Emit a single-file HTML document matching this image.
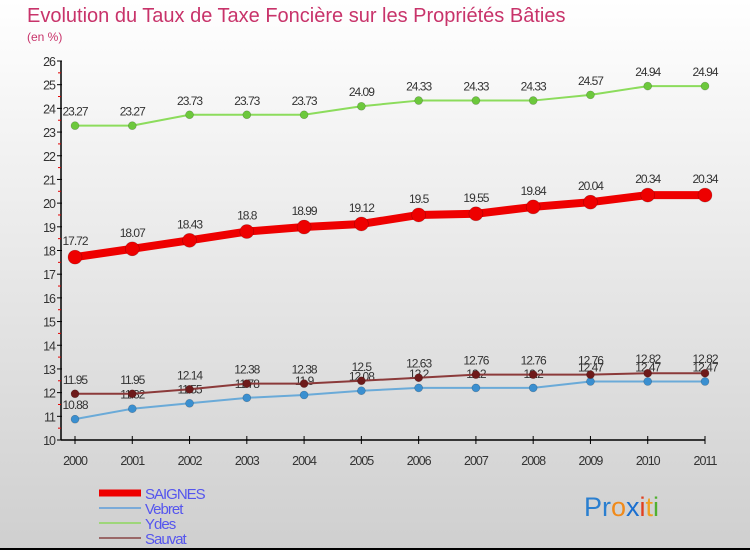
<!DOCTYPE html>
<html><head><meta charset="utf-8"><style>
body{margin:0;}
#wrap{width:750px;height:550px;position:relative;overflow:hidden;background:linear-gradient(#ffffff,#cfcfcf);font-family:"Liberation Sans",sans-serif;}
svg{position:absolute;left:0;top:0;}
</style></head><body>
<div id="wrap">
<svg id="c" width="750" height="550"></svg>
</div>
<script>
const years=["2000","2001","2002","2003","2004","2005","2006","2007","2008","2009","2010","2011"];
const saignes=[17.72,18.07,18.43,18.8,18.99,19.12,19.5,19.55,19.84,20.04,20.34,20.34];
const vebret=[10.88,11.32,11.55,11.78,11.9,12.08,12.2,12.2,12.2,12.47,12.47,12.47];
const ydes=[23.27,23.27,23.73,23.73,23.73,24.09,24.33,24.33,24.33,24.57,24.94,24.94];
const sauvat=[11.95,11.95,12.14,12.38,12.38,12.5,12.63,12.76,12.76,12.76,12.82,12.82];
const yTicks=[10,11,12,13,14,15,16,17,18,19,20,21,22,23,24,25,26];
const seriesNames=["SAIGNES","Vebret","Ydes","Sauvat"];

const svg=document.getElementById('c');
const NS="http://www.w3.org/2000/svg";
function X(i){return 75+i*(630/11);}
function Y(v){return 440-(v-10)*(379/16);}
function mk(t,a,p){const e=document.createElementNS(NS,t);for(const k in a)e.setAttribute(k,a[k]);(p||svg).appendChild(e);return e;}
function fmt(v){return String(v);}

let t=mk('text',{x:27,y:22,'font-size':20,fill:'#c8336a'});t.textContent="Evolution du Taux de Taxe Foncière sur les Propriétés Bâties";


t=mk('text',{x:27,y:41,'font-size':12,fill:'#c8336a'});t.textContent="(en %)";



let ax=mk('line',{x1:61,y1:Y(26),x2:61,y2:440,stroke:'#000','stroke-width':1.5});


ax=mk('line',{x1:61,y1:440,x2:X(11),y2:440,stroke:'#000','stroke-width':1.5});


yTicks.forEach(v=>{
  mk('line',{x1:57,y1:Y(v),x2:62,y2:Y(v),stroke:'#000'});
  if(v<26) mk('line',{x1:58,y1:Y(v+0.5),x2:61,y2:Y(v+0.5),stroke:'#e00000'});
  const l=mk('text',{x:55,y:Y(v)+5,'font-size':12.5,fill:'#333','text-anchor':'end','letter-spacing':'-1'});l.textContent=v;
  
  
});
years.forEach((y,i)=>{
  mk('line',{x1:X(i),y1:436,x2:X(i),y2:444,stroke:'#000'});
  const l=mk('text',{x:X(i),y:465,'font-size':12.5,fill:'#333','text-anchor':'middle','letter-spacing':'-1'});l.textContent=y;
  
  
});

function series(vals,color,dot,lw,r,name,labOff){
  const g=mk('g',{});
  
  
  mk('polyline',{points:vals.map((v,i)=>X(i)+','+Y(v)).join(' '),fill:'none',stroke:color,'stroke-width':lw,'stroke-linejoin':'round'},g);
  vals.forEach((v,i)=>{
    const c=mk('circle',{cx:X(i),cy:Y(v),r:r,fill:dot,stroke:'rgba(0,0,0,0.25)','stroke-width':0.6},g);
    
    
    const l=mk('text',{x:X(i),y:Y(v)+labOff,'font-size':12,fill:'#333','text-anchor':'middle','letter-spacing':'-1'},g);
    l.textContent=fmt(v);
    
    
  });
}
series(vebret,'#6aaad8','#3a8fd0',2,4,'vebret',-10);
series(sauvat,'#8b3a3a','#6e1a1a',2,4,'sauvat',-10);
series(ydes,'#8cdc5c','#6cc83c',2,4,'ydes',-10);
series(saignes,'#ee0000','#ee0000',8,7,'saignes',-12);

const legCols=['#ee0000','#7aaad8','#9ed67a','#9a6868'];
const legW=[7,2,2,2];
seriesNames.forEach((n,i)=>{
  const y=493+i*15;
  const g=mk('g',{});
  
  
  mk('line',{x1:99,y1:y,x2:141,y2:y,stroke:legCols[i],'stroke-width':legW[i]},g);
  const l=mk('text',{x:145,y:y+6,'font-size':15,fill:'#5555ee','letter-spacing':'-1'},g);l.textContent=n;
});
const lg=mk('text',{x:584,y:516,'font-size':27});


[['Pr','#2a7fd0'],['o','#f08a1a'],['x','#1a6fd0'],['i','#e04020'],['t','#f0a020'],['i','#50b030']].forEach(([s,c])=>{const ts=mk('tspan',{fill:c},lg);ts.textContent=s;});
mk('line',{x1:0,y1:549,x2:750,y2:549,stroke:'#000','stroke-width':2});
</script>
</body></html>
